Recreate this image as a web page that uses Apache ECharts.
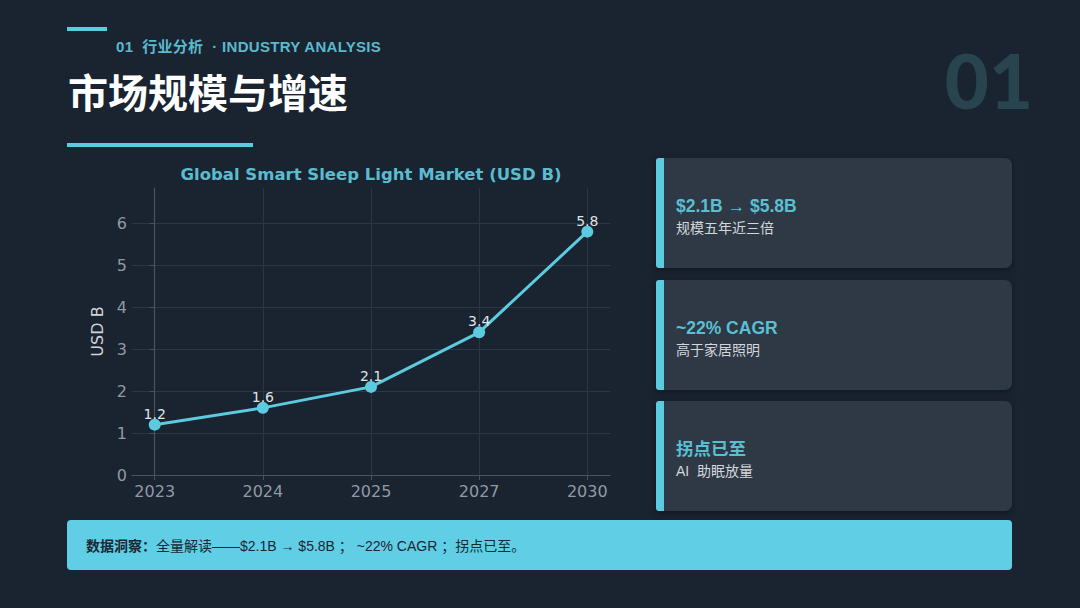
<!DOCTYPE html>
<html>
<head>
<meta charset="utf-8">
<script src="https://cdn.jsdelivr.net/npm/echarts@6/dist/echarts.min.js"></script>
<style>
  html, body { margin: 0; padding: 0; }
  body { width: 1080px; height: 608px; background: #1a2330; position: relative; overflow: hidden;
         font-family: "Liberation Sans", "Noto Sans CJK SC", sans-serif; }
  .abs { position: absolute; }
  .bar { background: #5ccbe0; }
  .hdr { left: 116px; top: 35px; font-size: 15px; font-weight: bold; color: #5ab9cd; letter-spacing: 0.3px; white-space: nowrap; }
  .title { left: 68px; top: 63px; font-size: 40px; font-weight: bold; color: #ffffff; font-family: "Noto Sans CJK SC", sans-serif; line-height: 56px; white-space: nowrap; }
  .big { right: 47px; top: 35px; font-size: 76px; font-weight: 900; color: #28454f; font-family: Lato, "DejaVu Sans", sans-serif; line-height: 90px; }
  .card { left: 656px; width: 348px; height: 110px; background: #2e3945; border-left: 8px solid #5ccbe0;
          border-radius: 3px 7px 7px 3px; box-shadow: 0 2px 6px rgba(0,0,0,0.35);
          display: flex; flex-direction: column; justify-content: center; box-sizing: content-box; }
  .card .h { margin-left: 12px; font-size: 17.5px; font-weight: bold; color: #5bbfd3; line-height: 24px; margin-top: 6px; }
  .card .s { margin-left: 12px; font-size: 14px; color: #d3d7db; line-height: 20px; }
  .banner { left: 67px; top: 520px; width: 945px; height: 50px; background: #60cee4; border-radius: 4px;
            display: flex; align-items: center; box-sizing: border-box; padding-left: 19px;
            font-size: 14px; color: #1b2733; white-space: nowrap; }
  #chart { left: 67px; top: 155px; width: 573px; height: 355px; }
</style>
</head>
<body>
<div class="abs bar" style="left:67px;top:27px;width:40px;height:4px;"></div>
<div class="abs hdr">01&nbsp; 行业分析 &nbsp;· INDUSTRY ANALYSIS</div>
<div class="abs title">市场规模与增速</div>
<div class="abs bar" style="left:67px;top:143px;width:186px;height:4px;"></div>
<div class="abs big">01</div>

<div id="chart" class="abs"></div>

<div class="abs card" style="top:158px;"><div class="h">$2.1B → $5.8B</div><div class="s">规模五年近三倍</div></div>
<div class="abs card" style="top:280px;"><div class="h">~22% CAGR</div><div class="s">高于家居照明</div></div>
<div class="abs card" style="top:401px;"><div class="h">拐点已至</div><div class="s">AI&nbsp; 助眠放量</div></div>

<div class="abs banner"><b>数据洞察：</b>全量解读——$2.1B → $5.8B ； ~22% CAGR ；拐点已至。</div>

<script>
const categories = ['2023', '2024', '2025', '2027', '2030'];
const marketSize = [1.2, 1.6, 2.1, 3.4, 5.8];
const yTicks = [0, 1, 2, 3, 4, 5, 6];
const chartTitle = 'Global Smart Sleep Light Market (USD B)';

const xIdx = categories.map((c, i) => i);
const seriesData = marketSize.map((v, i) => [i, v]);

const chart = echarts.init(document.getElementById('chart'), null, { renderer: 'svg' });
const tickFont = { fontFamily: 'DejaVu Sans', fontSize: 16, color: '#8f9aa5' };
chart.setOption({
  backgroundColor: 'transparent',
  animation: false,
  graphic: [{
    type: 'text', x: 304, y: 19,
    style: { text: chartTitle, textAlign: 'center', textVerticalAlign: 'middle',
             fontFamily: 'DejaVu Sans', fontSize: 16.5, fontWeight: 'bold', fill: '#5bbcd0' }
  }],
  grid: { left: 65, right: 30, top: 33, bottom: 35 },
  xAxis: {
    type: 'value', min: -0.21, max: 4.21,
    axisLine: { show: true, onZero: false, lineStyle: { color: '#46525e', width: 1.2 } },
    axisTick: { show: true, length: 5, lineStyle: { color: '#46525e' }, customValues: xIdx },
    axisLabel: Object.assign({ margin: 8, customValues: xIdx, formatter: v => categories[Math.round(v)] || '' }, tickFont),
    splitLine: { show: true, lineStyle: { color: '#2b3744', width: 1 } }
  },
  yAxis: {
    type: 'value', min: 0, max: 6.84,
    name: 'USD B', nameLocation: 'middle', nameGap: 27, nameRotate: 90,
    nameTextStyle: { fontFamily: 'DejaVu Sans', fontSize: 16, color: '#d0d4d8' },
    axisLine: { show: true, lineStyle: { color: '#46525e', width: 1.2 } },
    axisTick: { show: true, length: 5, lineStyle: { color: '#46525e' }, customValues: yTicks },
    axisLabel: Object.assign({ margin: 5, customValues: yTicks }, tickFont),
    splitLine: { show: true, lineStyle: { color: '#2b3744', width: 1 } }
  },
  series: [{
    type: 'line',
    data: seriesData,
    symbol: 'circle', symbolSize: 12,
    lineStyle: { color: '#5ccbe0', width: 3 },
    itemStyle: { color: '#5ccbe0' },
    label: { show: true, position: 'top', distance: -2, fontFamily: 'DejaVu Sans', fontSize: 14, color: '#dfe3e6',
             formatter: p => p.value[1].toFixed(1) }
  }]
});
</script>
</body>
</html>
